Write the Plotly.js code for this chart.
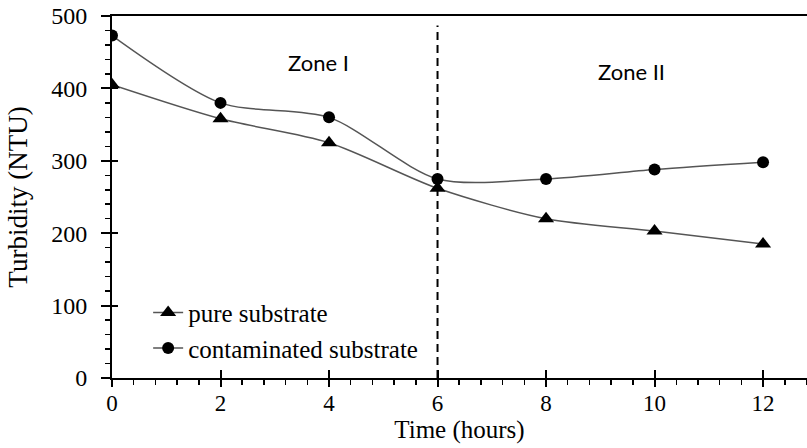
<!DOCTYPE html>
<html>
<head>
<meta charset="utf-8">
<script src="https://cdn.plot.ly/plotly-3.0.1.min.js"></script>
<style>html,body{margin:0;padding:0;background:#fff;}#chart{width:807px;height:448px;}</style>
</head>
<body>
<div id="chart"></div>
<script>
const timeHours = [0, 2, 4, 6, 8, 10, 12];
const pureSubstrate = [405, 358, 325, 262, 220, 203, 185];
const contaminatedSubstrate = [473, 380, 360, 275, 275, 288, 298];
const seriesNames = ["pure substrate", "contaminated substrate"];
const xTickVals = [0, 2, 4, 6, 8, 10, 12];
const yTickVals = [0, 100, 200, 300, 400, 500];
const zoneLabels = ["Zone I", "Zone II"];
const zoneBoundary = 6;

const serif = "'Liberation Serif', 'Times New Roman', serif";
const xRange = [0, 12.81];
const yRange = [0, 500];

const traces = [
  {
    x: timeHours, y: pureSubstrate, name: seriesNames[0],
    mode: "lines+markers", type: "scatter",
    line: {shape: "spline", smoothing: 0.8, color: "#555555", width: 1.5},
    marker: {symbol: "triangle-up", size: 14, color: "#000000"}
  },
  {
    x: timeHours, y: contaminatedSubstrate, name: seriesNames[1],
    mode: "lines+markers", type: "scatter",
    line: {shape: "spline", smoothing: 0.8, color: "#555555", width: 1.5},
    marker: {symbol: "circle", size: 12, color: "#000000"}
  },
  {x: [], y: [], xaxis: "x2", yaxis: "y2", showlegend: false, hoverinfo: "skip", type: "scatter", mode: "markers"}
];

const layout = {
  width: 807, height: 448,
  margin: {l: 112, r: 0, t: 16, b: 70},
  paper_bgcolor: "#ffffff", plot_bgcolor: "#ffffff",
  showlegend: true,
  legend: {
    x: 0.052, y: 0.02, xanchor: "left", yanchor: "bottom",
    bgcolor: "rgba(0,0,0,0)", font: {family: serif, size: 25, color: "#000"},
    itemwidth: 30, tracegroupgap: 0
  },
  xaxis: {
    range: xRange, tickvals: xTickVals, ticktext: xTickVals.map(String),
    showgrid: false, zeroline: false,
    showline: true, linecolor: "#000", linewidth: 2, mirror: true,
    ticks: "outside", ticklen: 7, tickwidth: 2, tickcolor: "#000",
    minor: {dtick: 0.4, tick0: 0, ticks: "outside", ticklen: 5, tickwidth: 1.5, tickcolor: "#000", showgrid: false},
    tickfont: {family: serif, size: 23, color: "#000"},
    ticklabelstandoff: -4,
    title: {text: "Time (hours)", font: {family: serif, size: 25, color: "#000"}, standoff: 2}
  },
  yaxis: {
    range: yRange, tickvals: yTickVals,
    showgrid: false, zeroline: false,
    showline: true, linecolor: "#000", linewidth: 2,
    ticks: "outside", ticklen: 9, tickwidth: 2, tickcolor: "#000",
    minor: {dtick: 20, tick0: 0, ticks: "outside", ticklen: 5, tickwidth: 1.5, tickcolor: "#000", showgrid: false},
    tickfont: {family: serif, size: 24, color: "#000"},
    ticklabelstandoff: 9,
    title: {text: "Turbidity (NTU)", font: {family: serif, size: 27, color: "#000"}, standoff: 16}
  },
  xaxis2: {
    range: xRange, overlaying: "x", anchor: "y2", side: "bottom",
    tickvals: xTickVals, showticklabels: false, ticks: "inside", ticklen: 8, tickwidth: 2, tickcolor: "#000",
    showgrid: false, zeroline: false, showline: false
  },
  yaxis2: {
    range: yRange, overlaying: "y", anchor: "x2", side: "left",
    tickvals: yTickVals, showticklabels: false, ticks: "inside", ticklen: 6, tickwidth: 2, tickcolor: "#000",
    showgrid: false, zeroline: false, showline: false
  },
  shapes: [
    {type: "line", xref: "x", yref: "y", x0: zoneBoundary, x1: zoneBoundary, y0: 0, y1: 487,
     line: {color: "#000", width: 2, dash: "8px,5px"}}
  ],
  annotations: [
    {x: 3.8, y: 436, xref: "x", yref: "y", text: zoneLabels[0], showarrow: false,
     font: {family: "Lato, 'Open Sans', sans-serif", size: 22, color: "#000"}},
    {x: 9.57, y: 423, xref: "x", yref: "y", text: zoneLabels[1], showarrow: false,
     font: {family: "Lato, 'Open Sans', sans-serif", size: 22, color: "#000"}}
  ]
};

Plotly.newPlot("chart", traces, layout, {displayModeBar: false, staticPlot: true});
</script>
</body>
</html>
